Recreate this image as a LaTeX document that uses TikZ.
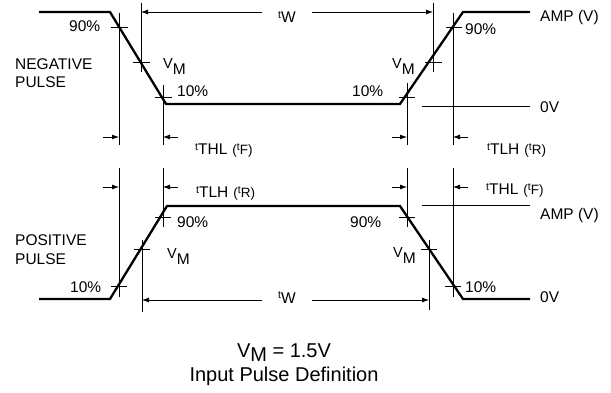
\documentclass[tikz,border=0pt]{standalone}
\usepackage{fontspec}
\setmainfont{Liberation Sans}
\usetikzlibrary{arrows.meta}
\newcommand{\smallt}{\raisebox{4.5pt}{\fontsize{10.5}{10.5}\selectfont t}}
\newcommand{\tlab}[2]{\smallt#1\hspace{5pt}{\fontsize{13.5}{13.5}\selectfont(\smallt#2)}}
\newcommand{\vmlab}{\raisebox{6pt}{\fontsize{14.5}{14.5}\selectfont V}M}
\begin{document}
\begin{tikzpicture}[x=1pt,y=-1pt,
  wave/.style={line width=2.3pt,line join=miter},
  thinln/.style={line width=0.75pt},
  dim/.style={line width=0.75pt,-{Latex[length=7pt,width=5pt]}},
  lbl/.style={font=\fontsize{15.5}{17}\selectfont,inner sep=0pt,anchor=base west},
  big/.style={font=\fontsize{20}{22}\selectfont,inner sep=0pt,anchor=base}]
\useasboundingbox (0,0) rectangle (611,393);
% ---------- negative pulse ----------
\coordinate (n0) at (39,12);
\coordinate (n1) at (110,12);
\coordinate (n2) at (166,104);
\coordinate (n3) at (400,104);
\coordinate (n4) at (463,12);
\coordinate (n5) at (530,12);
\draw[wave] (n0) -- (n1) -- (n2) -- (n3) -- (n4) -- (n5);
% ticks and verticals, falling edge
\draw[thinln] (111,27) -- (128,27);
\draw[thinln] (119,13) -- (119,145);
\draw[thinln] (133,62) -- (150,62);
\draw[thinln] (141,3) -- (141,72);
\draw[thinln] (155,97) -- (172,97);
\draw[thinln] (163,85) -- (163,145);
% ticks and verticals, rising edge
\draw[thinln] (399,97) -- (415,97);
\draw[thinln] (407,83) -- (407,145);
\draw[thinln] (425,62) -- (442,62);
\draw[thinln] (433,3) -- (433,72);
\draw[thinln] (446,27) -- (462,27);
\draw[thinln] (453,13) -- (453,145);
\draw[thinln] (422,106) -- (530,106);
% dimension arrows
\coordinate (na1) at (103,137); \coordinate (nb1) at (119,137);
\coordinate (na2) at (178,137); \coordinate (nb2) at (163,137);
\coordinate (na3) at (392,137); \coordinate (nb3) at (407,137);
\coordinate (na4) at (468,137); \coordinate (nb4) at (453,137);
\draw[dim] (na1) -- (nb1);
\draw[dim] (na2) -- (nb2);
\draw[dim] (na3) -- (nb3);
\draw[dim] (na4) -- (nb4);
\coordinate (nw1) at (262,12); \coordinate (nw1e) at (141,12);
\coordinate (nw2) at (312,12); \coordinate (nw2e) at (433,12);
\draw[dim] (nw1) -- (nw1e);
\draw[dim] (nw2) -- (nw2e);
% labels
\node[lbl] (t90a) at (69,32) {90\%};
\node[lbl] (tvma) at (163,75) {\vmlab};
\node[lbl] (t10a) at (177,97) {10\%};
\node[lbl] (neg1) at (15,70) {NEGATIVE};
\node[lbl] (neg2) at (15,88) {PULSE};
\node[lbl] (twa) at (278,23) {\smallt W};
\node[lbl] (tthla) at (195,155) {\tlab{THL}{F}};
\node[lbl] (tvmb) at (392,75) {\vmlab};
\node[lbl] (t10b) at (352,97) {10\%};
\node[lbl] (t90b) at (465,35) {90\%};
\node[lbl] (ampa) at (540,22) {AMP (V)};
\node[lbl] (zva) at (540,113) {0V};
\node[lbl] (ttlha) at (487,155) {\tlab{TLH}{R}};
% ---------- positive pulse ----------
\coordinate (p0) at (39,299);
\coordinate (p1) at (110,299);
\coordinate (p2) at (167,206);
\coordinate (p3) at (400,206);
\coordinate (p4) at (463,299);
\coordinate (p5) at (530,299);
\draw[wave] (p0) -- (p1) -- (p2) -- (p3) -- (p4) -- (p5);
\draw[thinln] (111,286) -- (127,286);
\draw[thinln] (119,168) -- (119,297);
\draw[thinln] (134,249) -- (150,249);
\draw[thinln] (142,240) -- (142,312);
\draw[thinln] (155,217) -- (171,217);
\draw[thinln] (163,168) -- (163,227);
\draw[thinln] (399,217) -- (415,217);
\draw[thinln] (407,168) -- (407,227);
\draw[thinln] (421,249) -- (437,249);
\draw[thinln] (429,240) -- (429,310);
\draw[thinln] (445,286) -- (461,286);
\draw[thinln] (453,168) -- (453,297);
\draw[thinln] (422,205) -- (530,205);
\coordinate (pa1) at (103,187); \coordinate (pb1) at (119,187);
\coordinate (pa2) at (178,187); \coordinate (pb2) at (163,187);
\coordinate (pa3) at (392,187); \coordinate (pb3) at (407,187);
\coordinate (pa4) at (468,187); \coordinate (pb4) at (453,187);
\draw[dim] (pa1) -- (pb1);
\draw[dim] (pa2) -- (pb2);
\draw[dim] (pa3) -- (pb3);
\draw[dim] (pa4) -- (pb4);
\coordinate (pw1) at (262,300); \coordinate (pw1e) at (142,300);
\coordinate (pw2) at (312,300); \coordinate (pw2e) at (429,300);
\draw[dim] (pw1) -- (pw1e);
\draw[dim] (pw2) -- (pw2e);
\node[lbl] (ttlhb) at (196,198) {\tlab{TLH}{R}};
\node[lbl] (t90c) at (177,228) {90\%};
\node[lbl] (pos1) at (15,245) {POSITIVE};
\node[lbl] (pos2) at (15,265) {PULSE};
\node[lbl] (tvmc) at (167,265) {\vmlab};
\node[lbl] (t10c) at (70,292) {10\%};
\node[lbl] (twb) at (278,303) {\smallt W};
\node[lbl] (tthlb) at (486,195) {\tlab{THL}{F}};
\node[lbl] (ampb) at (540,220) {AMP (V)};
\node[lbl] (t90d) at (350,228) {90\%};
\node[lbl] (tvmd) at (393,263) {\vmlab};
\node[lbl] (t10d) at (465,292) {10\%};
\node[lbl] (zvb) at (540,302) {0V};
% ---------- caption ----------
\node[big] (vm) at (284,357) {V\raisebox{-4.5pt}{M} = 1.5V};
\node[big] (cap) at (284,381.5) {Input Pulse Definition};
\end{tikzpicture}
\end{document}
